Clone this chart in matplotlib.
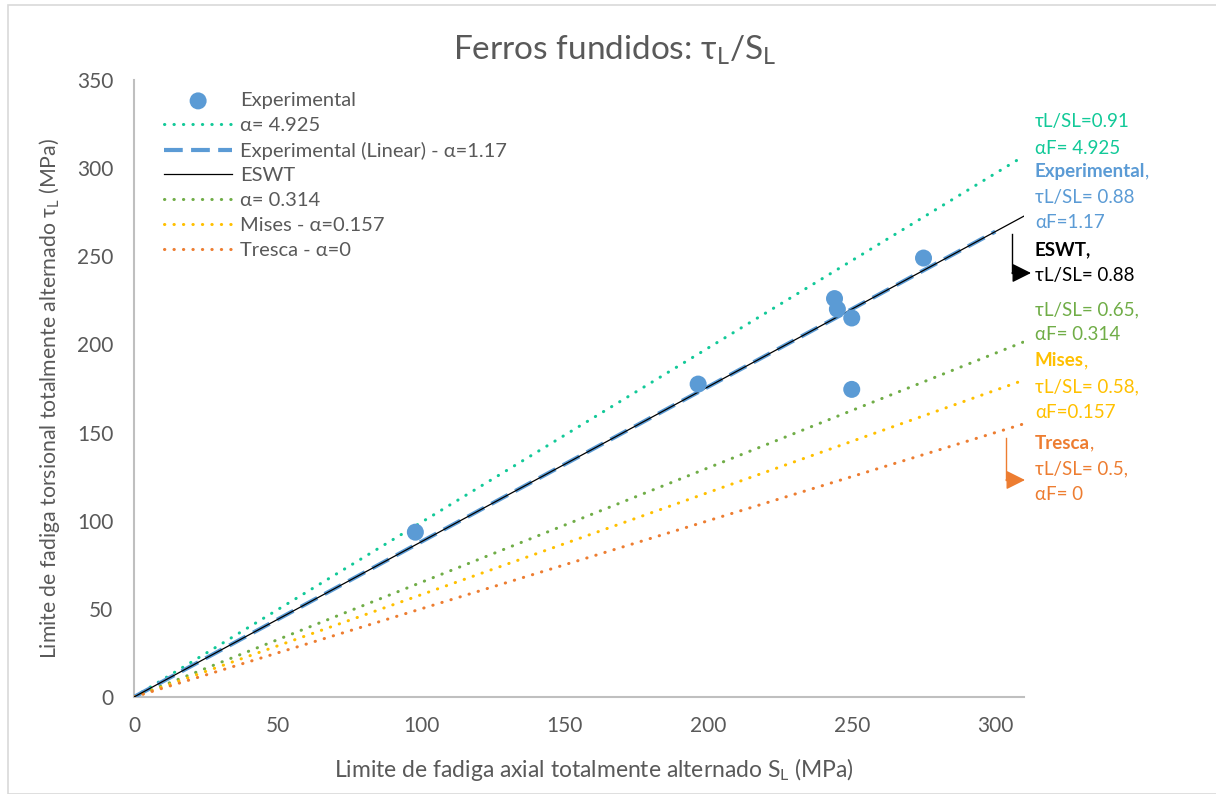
import matplotlib
matplotlib.use("Agg")
import matplotlib.pyplot as plt
import numpy as np
from matplotlib.patches import Rectangle

plt.rcParams['font.family'] = ['Lato', 'DejaVu Sans']
plt.rcParams['mathtext.fontset'] = 'custom'
plt.rcParams['mathtext.rm'] = 'Lato'
plt.rcParams['mathtext.it'] = 'Lato'
plt.rcParams['mathtext.fallback'] = 'stixsans'

# ---- data ----
exp_S = [98, 196.5, 244, 245, 250, 250, 275]
exp_tau = [93.5, 177.5, 226, 220, 215, 174.5, 249]

line_labels = ["α= 4.925", "Experimental (Linear) - α=1.17", "ESWT",
               "α= 0.314", "Mises - α=0.157", "Tresca - α=0"]
line_slopes = [0.99, 0.88, 0.88, 0.65, 0.58, 0.50]
line_xend = [310, 300, 310, 310, 310, 310]
line_colors = ["#12C998", "#5B9BD5", "#000000", "#70AD47", "#FFC000", "#ED7D31"]

x_ticks = [0, 50, 100, 150, 200, 250, 300]
y_ticks = [0, 50, 100, 150, 200, 250, 300, 350]

W, H = 1216, 794
fig = plt.figure(figsize=(W / 100, H / 100), dpi=100)
fig.patches.append(Rectangle((8 / W, 0), 1.2, (H - 5) / H, transform=fig.transFigure,
                             fill=False, edgecolor="#D9D9D9", lw=1.2))
ax = fig.add_axes([134 / W, 1 - 697 / H, (1024 - 134) / W, (697 - 80) / H])

dot = (0, (0.1, 3.0))
styles = [
    dict(ls=dot, lw=2.2, dash_capstyle='round'),
    dict(ls=(0, (4.5, 2.0)), lw=3.0),
    dict(ls='-', lw=0.9),
    dict(ls=dot, lw=2.2, dash_capstyle='round'),
    dict(ls=dot, lw=2.2, dash_capstyle='round'),
    dict(ls=dot, lw=2.2, dash_capstyle='round'),
]

handles = []
sc = ax.scatter(exp_S, exp_tau, s=150, color="#5B9BD5", zorder=5, label="Experimental",
                edgecolors='none')
handles.append(sc)
order_z = [3, 3, 4, 3, 3, 3]
for lab, k, xe, c, st, z in zip(line_labels, line_slopes, line_xend, line_colors, styles, order_z):
    xs = np.array([0, xe])
    h, = ax.plot(xs, k * xs, color=c, label=lab, zorder=z, **st)
    handles.append(h)

ax.set_xlim(0, 310)
ax.set_ylim(0, 350)
ax.set_xticks(x_ticks)
ax.set_yticks(y_ticks)
ax.tick_params(length=0, labelsize=15, colors="#595959")
ax.tick_params(axis='y', pad=15)
ax.tick_params(axis='x', pad=14)
for s in ['top', 'right']:
    ax.spines[s].set_visible(False)
for s in ['left', 'bottom']:
    ax.spines[s].set_color("#BFBFBF")
    ax.spines[s].set_linewidth(1.5)

ax.set_xlabel(r"Limite de fadiga axial totalmente alternado S$_\mathregular{L}$ (MPa)",
              fontsize=16.5, color="#595959")
ax.set_ylabel(r"Limite de fadiga torsional totalmente alternado τ$_\mathregular{L}$ (MPa)",
              fontsize=15.3, color="#595959")
ax.xaxis.set_label_coords(0.517, -0.095)
ax.yaxis.set_label_coords(-0.081, 0.483)
fig.text(615 / W, 1 - 50 / H, r"Ferros fundidos: τ$_\mathregular{L}$/S$_\mathregular{L}$",
         ha='center', va='center', fontsize=24, color="#595959")

leg = ax.legend(handles=handles, loc='upper left', bbox_to_anchor=(0.02, 1.0),
                frameon=False, fontsize=14.5, labelcolor="#595959", handlelength=3.4,
                handletextpad=0.4, labelspacing=0.38, borderaxespad=0.2)

# right-side annotations
ann = [
    (121, "τL/SL=0.91", "#12C998", 'normal'),
    (148, "αF= 4.925", "#12C998", 'normal'),
    (171, "Experimental", "#5B9BD5", 'bold'),
    (197, "τL/SL= 0.88", "#5B9BD5", 'normal'),
    (222, "αF=1.17", "#5B9BD5", 'normal'),
    (250, "ESWT,", "#000000", 'bold'),
    (275, "τL/SL= 0.88", "#000000", 'normal'),
    (310, "τL/SL= 0.65,", "#70AD47", 'normal'),
    (335, "αF= 0.314", "#70AD47", 'normal'),
    (361, "Mises", "#FFC000", 'bold'),
    (387, "τL/SL= 0.58,", "#FFC000", 'normal'),
    (412, "αF=0.157", "#FFC000", 'normal'),
    (443, "Tresca", "#ED7D31", 'bold'),
    (469, "τL/SL= 0.5,", "#ED7D31", 'normal'),
    (494, "αF= 0", "#ED7D31", 'normal'),
]
fig.canvas.draw()
for y, t, c, w in ann:
    txt = fig.text(1035 / W, 1 - y / H, t, ha='left', va='center', fontsize=13.5,
                   color=c, fontweight=w)
    if w == 'bold' and not t.endswith(','):
        bb = txt.get_window_extent(renderer=fig.canvas.get_renderer())
        fig.text(bb.x1 / W, 1 - y / H, ",", ha='left', va='center', fontsize=13.5, color=c)


def bent_arrow(x0, y0, y1, x1, c):
    fig.add_artist(plt.Line2D([x0 / W, x0 / W], [1 - y0 / H, 1 - y1 / H],
                              color=c, lw=1, transform=fig.transFigure))
    fig.add_artist(matplotlib.patches.FancyArrowPatch(
        (x0 / W, 1 - y1 / H), (x1 / W, 1 - y1 / H), transform=fig.transFigure,
        arrowstyle='-|>,head_length=0.9,head_width=0.45', mutation_scale=13,
        color=c, lw=1, shrinkA=0, shrinkB=0))


bent_arrow(1012, 234, 273, 1031, "#000000")
bent_arrow(1006, 438, 480, 1025, "#ED7D31")

fig.savefig("out.png", dpi=100)
